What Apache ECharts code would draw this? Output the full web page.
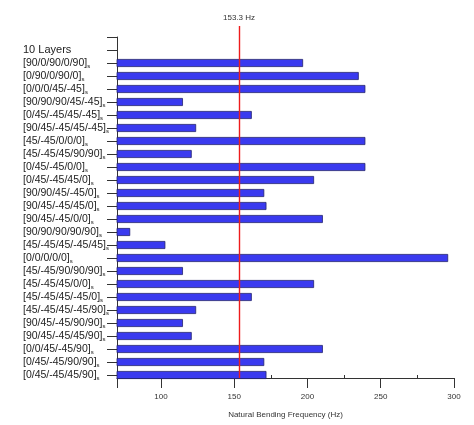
<!DOCTYPE html>
<html>
<head>
<meta charset="utf-8">
<script src="https://cdn.jsdelivr.net/npm/echarts@6/dist/echarts.min.js"></script>
<style>
    html, body {margin: 0; padding: 0; background: #fff;}
    #chart {width: 474px; height: 425px;}
</style>
</head>
<body>
<div id="chart"></div>
<script>
// 数据部分
// 纵轴类目（第一个为空行，第二个为分组标题）
var layups = ['', '10 Layers',
    '[90/0/90/0/90]', '[0/90/0/90/0]', '[0/0/0/45/-45]', '[90/90/90/45/-45]',
    '[0/45/-45/45/-45]', '[90/45/-45/45/-45]', '[45/-45/0/0/0]', '[45/-45/45/90/90]',
    '[0/45/-45/0/0]', '[0/45/-45/45/0]', '[90/90/45/-45/0]', '[90/45/-45/45/0]',
    '[90/45/-45/0/0]', '[90/90/90/90/90]', '[45/-45/45/-45/45]', '[0/0/0/0/0]',
    '[45/-45/90/90/90]', '[45/-45/45/0/0]', '[45/-45/45/-45/0]', '[45/-45/45/-45/90]',
    '[90/45/-45/90/90]', '[90/45/-45/45/90]', '[0/0/45/-45/90]', '[0/45/-45/90/90]',
    '[0/45/-45/45/90]'];

// 固有弯曲频率 (Hz)，前两行无数据
var frequency = [null, null,
    197, 235, 239.5, 115,
    162, 124, 239.5, 121,
    239.5, 204.5, 170.5, 172,
    210.5, 79, 103, 296,
    115, 204.5, 162, 124,
    115, 121, 210.5, 170.5,
    172];

// 参考线
var refFreq = 153.3;
var refLabel = '153.3 Hz';

// 横轴刻度
var xMajorTicks = [70, 100, 150, 200, 250, 300];
var xMinorTicks = [75, 125, 175, 225, 275];
var xTickLabels = [100, 150, 200, 250, 300];

//////////////////////////////////////////////////////////////////////////////////////////////////

var myChart = echarts.init(document.getElementById('chart'));

var font = 'Liberation Sans, Arial, sans-serif';

// 纵轴标签：铺层带下标 s
function layupLabel(val) {
    if (val == '') {
        return '';
    }
    if (val.charAt(0) != '[') {
        return '{h|' + val + '}';
    }
    return '{n|' + val + '}{s|s}';
}

var option = {
    backgroundColor: '#fff',
    animation: false,
    grid: [
        {left: 117, right: 20, top: 37, bottom: 50},
        {left: 117, right: 20, top: 37, bottom: 50}
    ],
    xAxis: [
        {
            type: 'value',
            gridIndex: 0,
            min: 70,
            max: 300,
            offset: 3,
            name: 'Natural Bending Frequency (Hz)',
            nameLocation: 'middle',
            nameGap: 33,
            nameTextStyle: {fontFamily: font, fontSize: 8, color: '#333'},
            axisLine: {show: true, lineStyle: {color: '#333', width: 1}},
            axisTick: {show: true, length: 10, customValues: xMajorTicks, lineStyle: {color: '#333'}},
            axisLabel: {customValues: xTickLabels, margin: 15, fontFamily: font, fontSize: 8, color: '#333'},
            splitLine: {show: false}
        },
        {
            // 次刻度
            type: 'value',
            gridIndex: 1,
            min: 70,
            max: 300,
            offset: 3,
            axisLine: {show: false},
            axisTick: {show: true, length: 4, customValues: xMinorTicks, lineStyle: {color: '#333'}},
            axisLabel: {show: false},
            splitLine: {show: false}
        }
    ],
    yAxis: [
        {
            type: 'category',
            gridIndex: 0,
            data: layups,
            inverse: true,
            boundaryGap: false,
            axisLine: {show: true, lineStyle: {color: '#333', width: 1}},
            axisTick: {show: true, length: 10, alignWithLabel: true, lineStyle: {color: '#333'}},
            axisLabel: {
                interval: 0,
                align: 'left',
                margin: 94,
                color: '#222',
                fontFamily: font,
                formatter: layupLabel,
                rich: {
                    n: {fontFamily: font, fontSize: 10.5, color: '#222', lineHeight: 12, padding: [2, 0, 2, 0]},
                    s: {fontFamily: font, fontSize: 6, color: '#222', lineHeight: 8, verticalAlign: 'bottom'},
                    h: {fontFamily: font, fontSize: 11, color: '#222', lineHeight: 12}
                }
            },
            splitLine: {show: false}
        },
        {
            type: 'value',
            gridIndex: 1,
            show: false
        }
    ],
    series: [
        {
            name: 'Natural Bending Frequency',
            type: 'bar',
            xAxisIndex: 0,
            yAxisIndex: 0,
            data: frequency,
            barWidth: 8,
            itemStyle: {color: '#3a3aef', borderColor: '#22226e', borderWidth: 0.8},
            markLine: {
                silent: true,
                z: 10,
                symbol: 'none',
                lineStyle: {color: '#ee1c1c', width: 1.4, type: 'solid', opacity: 1},
                emphasis: {disabled: true},
                label: {
                    show: true,
                    position: 'end',
                    distance: 4,
                    formatter: refLabel,
                    fontFamily: font,
                    fontSize: 8,
                    color: '#333'
                },
                data: [
                    [{xAxis: refFreq, y: 378}, {xAxis: refFreq, y: 26}]
                ]
            }
        }
    ]
};

myChart.setOption(option);
</script>
</body>
</html>
